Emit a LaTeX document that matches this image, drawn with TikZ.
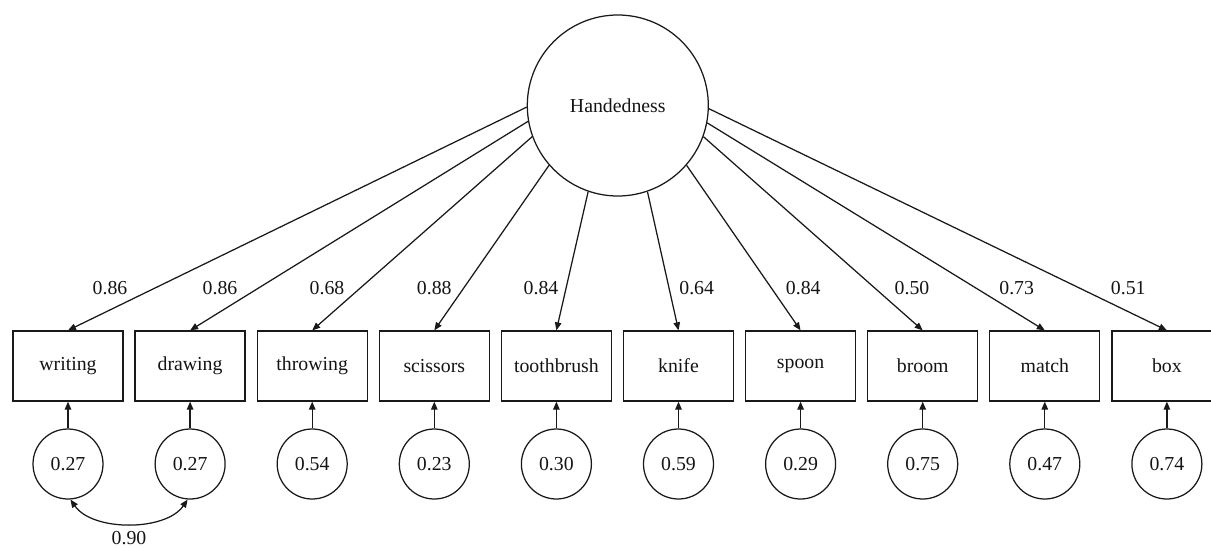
\documentclass[tikz,border=0pt]{standalone}
\usepackage{fontspec}
\setmainfont{Liberation Serif}
\usetikzlibrary{arrows.meta}
\begin{document}
\begin{tikzpicture}[x=1pt,y=-1pt,
  every node/.style={font=\fontsize{19.8}{23}\selectfont, text=black!92},
  obs/.style={draw=black!90, line width=1.25pt, minimum width=110pt, minimum height=70pt, inner sep=0pt},
  err/.style={draw=black!90, circle, line width=1.25pt, minimum size=70pt, inner sep=0pt},
  lat/.style={draw=black!90, circle, line width=1.25pt, minimum size=181pt, inner sep=0pt},
  tip/.tip={Triangle[length=8pt,width=6.5pt]},
  pathline/.style={draw=black!90, line width=1.25pt, -tip},
  covline/.style={draw=black!90, line width=1.25pt, tip-tip},
  lab/.style={inner sep=0pt}
]
\useasboundingbox (0,0) rectangle (1211,547);
\clip (0,0) rectangle (1211,547);
\node[lat] (H) at (617.8,105.5) {Handedness};
\foreach \i/\n/\t/\e/\a/\l/\lx in {
  0/v1/writing/0.27/181.8/0.86/110,
  1/v2/drawing/0.27/190.2/0.86/220,
  2/v3/throwing/0.54/200/0.68/327,
  3/v4/scissors/0.23/221/0.88/434.3,
  4/v5/toothbrush/0.30/251/0.84/541,
  5/v6/knife/0.59/289/0.64/696.7,
  6/v7/spoon/0.29/319/0.84/803.3,
  7/v8/broom/0.75/340/0.50/912,
  8/v9/match/0.47/349.8/0.73/1016.7,
  9/v10/box/0.74/358.2/0.51/1128.3} {
  \node[obs] (\n) at ({68+122.1*\i},366) {\t};
  \node[err] (e\n) at ({68+122.1*\i},464) {\e};
  \draw[pathline] (e\n.north) -- (\n.south);
  \draw[pathline] (H.\a) -- (\n.north);
  \node[lab] (l\n) at (\lx,288.5) {\l};
}
\draw[covline] (ev1.-86) .. controls +(22,32) and +(-22,32) .. (ev2.-94);
\node[lab] (cov) at (129,538) {0.90};
\end{tikzpicture}
\end{document}
